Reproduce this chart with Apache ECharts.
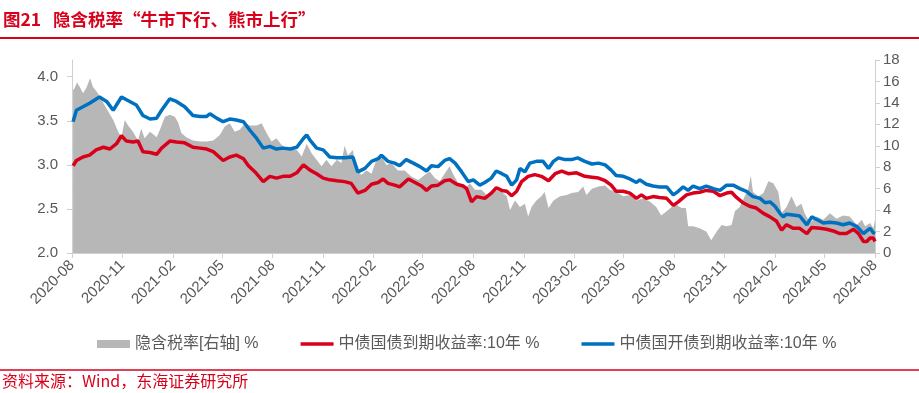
<!DOCTYPE html>
<html><head><meta charset="utf-8">
<script src="https://cdn.jsdelivr.net/npm/echarts@6/dist/echarts.min.js"></script>
<style>html,body{margin:0;padding:0;background:#fff}#c{width:919px;height:393px}</style>
</head><body><div id="c"></div><script>
const titleText = '图21   隐含税率“牛市下行、熊市上行”';
const sourceText = '资料来源：Wind，东海证券研究所';
const seriesNames = ['隐含税率[右轴] %', '中债国债到期收益率:10年 %', '中债国开债到期收益率:10年 %'];
const xTickLabels = ['2020-08','2020-11','2021-02','2021-05','2021-08','2021-11','2022-02','2022-05','2022-08','2022-11','2023-02','2023-05','2023-08','2023-11','2024-02','2024-05','2024-08'];
const leftTicks = [2.0, 2.5, 3.0, 3.5, 4.0];

const taxDates = ['2020-08-03','2020-08-06','2020-08-10','2020-08-15','2020-08-21','2020-08-27','2020-09-03','2020-09-08','2020-09-17','2020-09-27',
'2020-10-06','2020-10-15','2020-10-24','2020-10-30','2020-11-05','2020-11-11','2020-11-20','2020-11-29','2020-12-05','2020-12-11',
'2020-12-21','2021-01-02','2021-01-08','2021-01-17','2021-01-26','2021-02-04','2021-02-10','2021-02-16','2021-02-25','2021-03-09',
'2021-03-22','2021-04-03','2021-04-15','2021-04-27','2021-05-06','2021-05-15','2021-05-24','2021-06-02','2021-06-12','2021-06-21',
'2021-07-03','2021-07-12','2021-07-21','2021-07-30','2021-08-08','2021-08-17','2021-08-26','2021-09-05','2021-09-14','2021-09-23',
'2021-10-02','2021-10-11','2021-10-20','2021-10-29','2021-11-07','2021-11-16','2021-11-26','2021-12-04','2021-12-10','2021-12-16',
'2021-12-25','2021-12-31','2022-01-10','2022-01-19','2022-01-28','2022-02-06','2022-02-15','2022-02-24','2022-03-05','2022-03-17',
'2022-03-29','2022-04-11','2022-04-23','2022-05-05','2022-05-14','2022-05-23','2022-06-01','2022-06-10','2022-06-19','2022-06-25',
'2022-07-05','2022-07-17','2022-07-26','2022-08-04','2022-08-16','2022-08-28','2022-09-09','2022-09-22','2022-10-01','2022-10-07',
'2022-10-16','2022-10-25','2022-11-03','2022-11-09','2022-11-15','2022-11-24','2022-12-03','2022-12-09','2022-12-16','2022-12-25',
'2023-01-06','2023-01-18','2023-01-27','2023-02-08','2023-02-17','2023-02-23','2023-03-05','2023-03-17','2023-03-29','2023-04-06',
'2023-04-18','2023-05-01','2023-05-13','2023-05-25','2023-06-06','2023-06-18','2023-06-30','2023-07-09','2023-07-19','2023-07-28',
'2023-08-06','2023-08-15','2023-08-23','2023-08-27','2023-09-05','2023-09-17','2023-09-29','2023-10-08','2023-10-18','2023-10-27',
'2023-11-05','2023-11-14','2023-11-20','2023-11-29','2023-12-08','2023-12-14','2023-12-19','2023-12-23','2024-01-02','2024-01-11',
'2024-01-20','2024-01-29','2024-02-07','2024-02-13','2024-02-22','2024-03-02','2024-03-11','2024-03-20','2024-03-26','2024-04-05',
'2024-04-17','2024-04-29','2024-05-11','2024-05-23','2024-06-04','2024-06-16','2024-06-29','2024-07-08','2024-07-14','2024-07-23',
'2024-07-29','2024-08-01'];
const taxVals = [15.2,15.4,15.9,15.5,14.9,15.4,16.3,15.5,14.9,14.0,
13.2,12.4,11.3,10.8,12.4,11.9,11.3,10.5,11.6,10.7,
11.3,10.8,11.5,12.7,12.9,12.7,12.2,11.2,10.8,10.5,
10.4,10.4,10.5,11.0,11.8,12.1,11.3,11.5,12.1,11.9,
11.9,12.1,11.2,10.4,10.7,10.1,9.8,9.6,9.6,9.0,
10.2,9.3,8.7,8.1,8.7,8.1,8.7,8.4,10.0,9.1,
9.6,7.7,7.3,7.7,7.4,8.7,9.0,8.2,8.4,7.7,
7.7,7.1,6.8,7.3,7.6,7.0,6.7,7.4,8.1,7.4,
6.5,6.0,6.5,5.9,5.9,5.3,5.9,5.7,5.3,4.0,
4.9,4.3,4.6,3.4,4.3,4.9,5.3,5.7,4.2,4.9,
5.3,5.4,5.6,5.7,6.2,5.4,6.0,6.2,6.3,5.9,
5.7,5.3,5.4,4.9,5.1,4.8,4.3,3.5,3.9,4.3,
4.5,4.2,4.2,2.5,2.5,2.3,2.0,1.2,2.0,2.6,
2.5,2.6,3.9,4.3,5.3,5.9,7.2,5.7,5.3,5.6,
6.7,6.5,5.7,3.7,4.3,5.3,4.3,4.6,3.7,2.8,
3.4,3.1,3.7,3.2,3.5,3.4,2.6,3.1,2.5,2.8,
2.3,3.1];

const cgbDates = ['2020-08-03','2020-08-09','2020-08-21','2020-09-02','2020-09-14','2020-09-27','2020-10-09','2020-10-21','2020-10-30','2020-11-08',
'2020-11-20','2020-11-29','2020-12-08','2020-12-21','2021-01-02','2021-01-11','2021-01-26','2021-02-07','2021-02-22','2021-03-09',
'2021-03-22','2021-04-03','2021-04-15','2021-05-03','2021-05-15','2021-05-27','2021-06-09','2021-06-18','2021-06-30','2021-07-15',
'2021-07-27','2021-08-08','2021-08-20','2021-09-02','2021-09-14','2021-09-26','2021-10-08','2021-10-20','2021-11-01','2021-11-13',
'2021-11-26','2021-12-10','2021-12-22','2022-01-03','2022-01-16','2022-01-28','2022-02-09','2022-02-18','2022-02-27','2022-03-11',
'2022-03-20','2022-04-05','2022-04-17','2022-04-29','2022-05-08','2022-05-17','2022-05-29','2022-06-10','2022-06-19','2022-07-02',
'2022-07-14','2022-07-20','2022-07-29','2022-08-07','2022-08-22','2022-09-03','2022-09-12','2022-09-22','2022-10-01','2022-10-10',
'2022-10-19','2022-10-28','2022-11-09','2022-11-21','2022-12-03','2022-12-16','2022-12-28','2023-01-09','2023-01-21','2023-02-05',
'2023-02-20','2023-03-05','2023-03-17','2023-03-29','2023-04-09','2023-04-18','2023-05-01','2023-05-13','2023-05-25','2023-06-03',
'2023-06-12','2023-06-24','2023-07-06','2023-07-19','2023-07-31','2023-08-09','2023-08-24','2023-09-05','2023-09-17','2023-09-29',
'2023-10-12','2023-10-24','2023-11-05','2023-11-14','2023-11-23','2023-12-05','2023-12-17','2023-12-29','2024-01-11','2024-01-23',
'2024-02-04','2024-02-13','2024-02-22','2024-03-05','2024-03-17','2024-03-30','2024-04-08','2024-04-23','2024-05-05','2024-05-17',
'2024-05-29','2024-06-10','2024-06-23','2024-07-02','2024-07-11','2024-07-17','2024-07-23','2024-07-29','2024-08-01'];
const cgbVals = [2.99,3.05,3.09,3.11,3.17,3.20,3.18,3.24,3.33,3.27,
3.26,3.27,3.15,3.14,3.12,3.19,3.27,3.26,3.25,3.20,
3.19,3.18,3.15,3.05,3.09,3.11,3.07,2.99,2.92,2.81,
2.87,2.85,2.87,2.87,2.91,3.00,2.94,2.90,2.85,2.83,
2.82,2.81,2.79,2.68,2.71,2.78,2.80,2.84,2.79,2.77,
2.75,2.84,2.80,2.76,2.71,2.76,2.77,2.82,2.83,2.78,
2.76,2.73,2.58,2.64,2.62,2.68,2.74,2.71,2.70,2.65,
2.70,2.81,2.87,2.89,2.87,2.82,2.90,2.93,2.90,2.91,
2.87,2.86,2.85,2.82,2.77,2.70,2.70,2.68,2.62,2.66,
2.62,2.64,2.63,2.62,2.54,2.58,2.66,2.68,2.69,2.71,
2.70,2.65,2.68,2.69,2.63,2.57,2.53,2.51,2.45,2.41,
2.36,2.26,2.32,2.28,2.28,2.22,2.29,2.28,2.27,2.25,
2.22,2.22,2.27,2.22,2.13,2.13,2.17,2.17,2.13];

const cdbDates = ['2020-08-03','2020-08-09','2020-08-21','2020-09-02','2020-09-20','2020-10-03','2020-10-15','2020-10-30','2020-11-14','2020-11-26',
'2020-12-08','2020-12-21','2021-01-02','2021-01-11','2021-01-26','2021-02-07','2021-02-22','2021-03-09','2021-03-22','2021-04-03',
'2021-04-09','2021-04-21','2021-05-03','2021-05-15','2021-05-27','2021-06-09','2021-06-21','2021-07-03','2021-07-15','2021-07-27',
'2021-08-08','2021-08-20','2021-09-02','2021-09-14','2021-09-26','2021-10-02','2021-10-08','2021-10-20','2021-11-01','2021-11-13',
'2021-11-26','2021-12-10','2021-12-25','2022-01-03','2022-01-16','2022-01-28','2022-02-09','2022-02-15','2022-02-27','2022-03-11',
'2022-03-20','2022-04-01','2022-04-14','2022-04-26','2022-05-08','2022-05-17','2022-05-29','2022-06-10','2022-06-19','2022-06-29',
'2022-07-11','2022-07-23','2022-08-01','2022-08-13','2022-08-22','2022-09-03','2022-09-12','2022-09-22','2022-10-01','2022-10-10',
'2022-10-19','2022-10-25','2022-11-03','2022-11-12','2022-11-24','2022-12-06','2022-12-16','2022-12-25','2023-01-03','2023-01-15',
'2023-01-27','2023-02-07','2023-02-20','2023-03-05','2023-03-17','2023-03-29','2023-04-09','2023-04-18','2023-05-01','2023-05-13',
'2023-05-25','2023-05-31','2023-06-12','2023-06-24','2023-07-06','2023-07-19','2023-07-31','2023-08-09','2023-08-18','2023-08-27',
'2023-09-05','2023-09-17','2023-09-29','2023-10-12','2023-10-24','2023-11-05','2023-11-17','2023-11-29','2023-12-11','2023-12-23',
'2024-01-05','2024-01-14','2024-01-23','2024-02-01','2024-02-10','2024-02-16','2024-02-22','2024-03-05','2024-03-17','2024-03-30',
'2024-04-08','2024-04-17','2024-04-29','2024-05-11','2024-05-23','2024-06-04','2024-06-16','2024-06-29','2024-07-11','2024-07-17',
'2024-07-23','2024-07-29','2024-08-01'];
const cdbVals = [3.49,3.62,3.66,3.70,3.77,3.72,3.62,3.77,3.72,3.68,
3.56,3.52,3.53,3.62,3.75,3.72,3.66,3.56,3.55,3.55,
3.58,3.53,3.49,3.52,3.51,3.49,3.39,3.30,3.19,3.21,
3.18,3.19,3.18,3.20,3.30,3.34,3.28,3.19,3.17,3.09,
3.08,3.08,3.09,2.92,2.96,3.04,3.07,3.11,3.04,3.02,
2.99,3.06,3.02,2.98,2.93,2.99,2.98,3.05,3.07,3.02,
2.92,2.81,2.83,2.77,2.80,2.85,2.93,2.90,2.87,2.77,
2.83,2.96,2.92,3.02,3.04,3.04,2.96,3.04,3.08,3.06,
3.06,3.08,3.04,3.01,3.02,3.00,2.94,2.88,2.87,2.84,
2.80,2.83,2.78,2.76,2.75,2.75,2.66,2.70,2.75,2.71,
2.76,2.73,2.76,2.73,2.71,2.77,2.77,2.73,2.70,2.64,
2.62,2.57,2.58,2.53,2.45,2.41,2.44,2.43,2.42,2.32,
2.41,2.38,2.34,2.35,2.34,2.32,2.34,2.30,2.22,2.25,
2.28,2.23,2.22];

const RED = '#d9001b', BLUE = '#0070c0', GRAY = '#b7b7b7';
const FONT = '"Liberation Sans", "Noto Sans CJK SC", sans-serif';
const T = s => echarts.time.parse(s);
const zip = (d, v) => d.map((x, i) => [T(x), v[i]]);
const xTicks = xTickLabels.map(s => T(s + '-01'));

const chart = echarts.init(document.getElementById('c'), null, {renderer: 'canvas'});
chart.setOption({
  animation: false,
  textStyle: {fontFamily: FONT},
  title: {
    text: titleText, left: 3, top: 11, padding: 0,
    textStyle: {color: RED, fontSize: 17.5, fontWeight: 'bold', fontFamily: '"Noto Sans CJK SC", sans-serif'}
  },
  graphic: [
    {type: 'line', shape: {x1: 0, y1: 38, x2: 919, y2: 38}, style: {stroke: RED, lineWidth: 2}},
    {type: 'line', shape: {x1: 0, y1: 370, x2: 919, y2: 370}, style: {stroke: RED, lineWidth: 1.5}},
    {type: 'text', left: 2, top: 373, style: {text: sourceText, fill: RED, fontSize: 16, fontFamily: '"Noto Sans CJK SC", sans-serif'}}
  ],
  grid: {left: 72, right: 44, top: 60, bottom: 140, containLabel: false},
  legend: {
    left: 97, top: 336, padding: 0, itemWidth: 33, itemHeight: 8, itemGap: 42,
    textStyle: {fontSize: 16, color: '#595959', fontFamily: FONT},
    data: [
      {name: seriesNames[0], icon: 'path://M0,0h33v8h-33z'},
      {name: seriesNames[1], icon: 'path://M0,0h33v3.5h-33z'},
      {name: seriesNames[2], icon: 'path://M0,0h33v3.5h-33z'}
    ]
  },
  xAxis: {
    type: 'value',
    min: T('2020-08-01'),
    max: T('2024-08-01'),
    axisLine: {show: true, lineStyle: {color: '#d0d0d0', width: 1}},
    axisTick: {show: true, customValues: xTicks, length: 5, lineStyle: {color: '#d0d0d0'}},
    axisLabel: {
      customValues: xTicks, rotate: 45, margin: 10, fontSize: 15, color: '#595959', hideOverlap: false,
      formatter: v => echarts.time.format(v, '{yyyy}-{MM}', false)
    },
    splitLine: {show: false}
  },
  yAxis: [
    {
      type: 'value', position: 'left', min: 2, max: 4.19,
      axisLine: {show: true, lineStyle: {color: '#d0d0d0'}},
      axisTick: {show: true, customValues: leftTicks, length: 5, lineStyle: {color: '#d0d0d0'}},
      axisLabel: {customValues: leftTicks, fontSize: 15, color: '#595959', margin: 14, formatter: v => v.toFixed(1)},
      splitLine: {show: false}
    },
    {
      type: 'value', position: 'right', min: 0, max: 18, interval: 2,
      axisLine: {show: true, lineStyle: {color: '#d0d0d0'}},
      axisTick: {show: true, length: 5, lineStyle: {color: '#d0d0d0'}},
      axisLabel: {fontSize: 15, color: '#595959', margin: 8},
      splitLine: {show: false}
    }
  ],
  series: [
    {name: seriesNames[0], type: 'line', yAxisIndex: 1, data: zip(taxDates, taxVals), symbol: 'none',
     itemStyle: {color: GRAY}, lineStyle: {width: 0, color: GRAY}, areaStyle: {color: GRAY, opacity: 1}, z: 1},
    {name: seriesNames[1], type: 'line', yAxisIndex: 0, data: zip(cgbDates, cgbVals), symbol: 'none',
     itemStyle: {color: RED}, lineStyle: {width: 3.5, color: RED}, z: 3},
    {name: seriesNames[2], type: 'line', yAxisIndex: 0, data: zip(cdbDates, cdbVals), symbol: 'none',
     itemStyle: {color: BLUE}, lineStyle: {width: 3.5, color: BLUE}, z: 4}
  ]
});
</script></body></html>
